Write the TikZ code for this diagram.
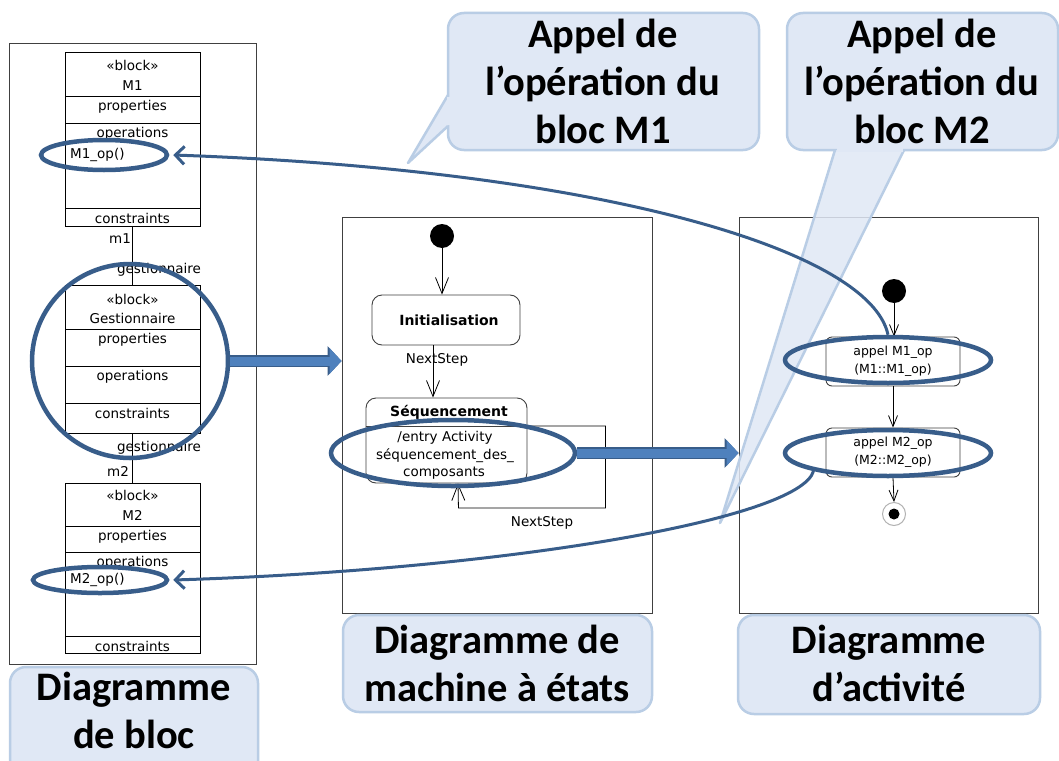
\documentclass[tikz,border=0pt]{standalone}
\usepackage{fontspec}
\setmainfont{Carlito}
\newfontfamily\umlfont{DejaVu Sans}
\usetikzlibrary{arrows.meta,shapes.geometric,calc}
\definecolor{ebl}{HTML}{385D8A}
\definecolor{afill}{HTML}{4F81BD}
\definecolor{cfill}{HTML}{E0E8F5}
\definecolor{cbord}{HTML}{B9CDE5}
\definecolor{fr}{HTML}{404040}
\begin{document}
\begin{tikzpicture}[x=1pt,y=-1pt,
  diagframe/.style={draw=fr, line width=0.9pt, inner sep=0pt},
  blkbox/.style={draw=black, line width=0.8pt, minimum width=135pt, inner sep=0pt},
  umltxt/.style={font=\umlfont\fontsize{13.5}{16}\selectfont, inner sep=0pt},
  umlbold/.style={font=\umlfont\bfseries\fontsize{14}{16}\selectfont, inner sep=0pt},
  acttxt/.style={font=\umlfont\fontsize{12.5}{18}\selectfont, align=center, inner sep=0pt},
  stbox/.style={draw=fr, line width=0.9pt, rounded corners=10pt, inner sep=0pt},
  actbox/.style={draw=fr, line width=0.9pt, rounded corners=6pt, inner sep=0pt, minimum width=134pt, minimum height=49pt},
  uarrow/.style={draw=black, line width=0.8pt, -{Straight Barb[length=16pt,width=13pt]}},
  uarrowsm/.style={draw=black, line width=0.8pt, -{Straight Barb[length=11pt,width=9pt]}},
  blueell/.style={ellipse, draw=ebl, line width=4.5pt, inner sep=0pt},
  bluecurve/.style={draw=ebl, line width=3pt, -{Straight Barb[length=9pt,width=18pt]}},
  barrow/.style={draw=afill, line width=9pt, -{Triangle[length=12pt,width=25pt]},
     preaction={draw=ebl, line width=11.5pt, -{Triangle[length=14pt,width=29pt]}}},
  callbox/.style={draw=cbord, fill=cfill, line width=2.5pt, rounded corners=16pt, inner sep=0pt},
  calltxt/.style={font=\bfseries\fontsize{40.5}{48}\selectfont, align=center, inner sep=0pt},
  dot/.style={circle, fill=black, inner sep=0pt}
]
\useasboundingbox (0,0) rectangle (1059,760);
\fill[white] (0,0) rectangle (1059,760);

% ---------- frames ----------
\node[diagframe, minimum width=247pt, minimum height=621pt] (blframe) at (132.5,353.5) {};
\node[diagframe, minimum width=310pt, minimum height=396pt] (smframe) at (497,415) {};
\node[diagframe, minimum width=299pt, minimum height=396pt] (acframe) at (888.5,415) {};

% ---------- block diagram ----------
\node[blkbox, minimum height=174pt] (m1blk) at (132.5,139) {};
\draw[line width=0.8pt] (65,96) -- (200,96) (65,123) -- (200,123) (65,208) -- (200,208);
\node[umltxt] (m1st) at (132.5,65) {«block»};
\node[umltxt] (m1nm) at (132.5,86) {M1};
\node[umltxt] (m1pr) at (132.5,107) {properties};
\node[umltxt] (m1ops) at (132.5,134) {operations};
\node[umltxt, anchor=west] (m1op) at (70,155) {M1\_op()};
\node[umltxt] (m1co) at (132.5,218) {constraints};

\node[blkbox, minimum height=148pt] (gblk) at (132.5,359) {};
\draw[line width=0.8pt] (65,329) -- (200,329) (65,366) -- (200,366) (65,403) -- (200,403);
\node[umltxt] (gst) at (132.5,299) {«block»};
\node[umltxt] (gnm) at (132.5,318) {Gestionnaire};
\node[umltxt] (gpr) at (132.5,340) {properties};
\node[umltxt] (gops) at (132.5,377) {operations};
\node[umltxt] (gco) at (132.5,413) {constraints};

\node[blkbox, minimum height=170pt] (m2blk) at (132.5,568) {};
\draw[line width=0.8pt] (65,526) -- (200,526) (65,552) -- (200,552) (65,636) -- (200,636);
\node[umltxt] (m2st) at (132.5,495) {«block»};
\node[umltxt] (m2nm) at (132.5,515) {M2};
\node[umltxt] (m2pr) at (132.5,537) {properties};
\node[umltxt] (m2ops) at (132.5,563) {operations};
\node[umltxt, anchor=west] (m2op) at (70,580) {M2\_op()};
\node[umltxt] (m2co) at (132.5,646) {constraints};

\draw[line width=0.8pt] (m1blk.south) -- (gblk.north);
\draw[line width=0.8pt] (gblk.south) -- (m2blk.north);
\node[umltxt] (lm1) at (120,239) {m1};
\node[umltxt] (lg1) at (159,270) {gestionnaire};
\node[umltxt] (lg2) at (159,448) {gestionnaire};
\node[umltxt] (lm2) at (118,471) {m2};

% ---------- state machine ----------
\node[dot, minimum size=24pt] (sinit) at (442,236) {};
\node[stbox, minimum width=148pt, minimum height=50pt] (sini) at (446,320) {};
\node[umlbold] (sinit_t) at (449,320) {Initialisation};
\node[stbox, minimum width=161pt, minimum height=85pt] (sseq) at (446.5,440.5) {};
\draw[line width=0.9pt, draw=fr] (366,426) -- (527,426);
\node[umlbold] (sseqt) at (449,412) {Séquencement};
\node[umltxt] (sseq1) at (445,438) {/entry Activity};
\node[umltxt] (sseq2) at (445,456) {séquencement\_des\_};
\node[umltxt] (sseq3) at (444,473) {composants};
\draw[uarrow] (sinit.south) -- (sinit.south |- sini.north);
\draw[uarrow] ([xshift=-13pt]sini.south) -- ([xshift=-13pt]sini.south |- sseq.north);
\node[umltxt] (ns1) at (437,360) {NextStep};
\draw[uarrow] ([yshift=14.5pt]sseq.east) -- ++(78,0) -- ++(0,82) -- ++(-147,0) -- ([xshift=11.5pt]sseq.south);
\node[umltxt] (ns2) at (542,523) {NextStep};

% ---------- activity ----------
\node[dot, minimum size=24pt] (ainit) at (894,291) {};
\node[actbox, acttxt] (act1) at (893,361.5) {appel M1\_op\\(M1::M1\_op)};
\node[actbox, acttxt] (act2) at (893,452.5) {appel M2\_op\\(M2::M2\_op)};
\node[circle, draw=gray!60, line width=1pt, minimum size=23pt, inner sep=0pt] (afin) at (894,514) {};
\node[dot, minimum size=11pt] (afind) at (afin) {};
\draw[uarrowsm] (ainit.south) -- (ainit.south |- act1.north);
\draw[uarrowsm] (act1.south) -- (act2.north);
\draw[uarrowsm] (act2.south) -- (afin.north);

% ---------- callouts and labels ----------
\node[callbox, minimum width=311pt, minimum height=137pt] (c1) at (603.5,81.5) {};
\filldraw[draw=cbord, fill=cfill, line width=2.5pt, line join=round] (448,95) -- (408,163) -- (448,126);
\fill[cfill] (446.5,96.5) rectangle (450.5,124.5);
\node[calltxt] (c1t) at (603,81) {Appel de\\l’opération du\\bloc M1};

\node[callbox, minimum width=271pt, minimum height=137pt] (c2) at (922.5,81.5) {};
\filldraw[draw=cbord, fill=cfill, line width=2.5pt, fill opacity=0.85, line join=round] (835,150) -- (720,523) -- (904,150);
\fill[cfill] (836.5,147.5) rectangle (902.5,151.5);
\node[calltxt] (c2t) at (922,81) {Appel de\\l’opération du\\bloc M2};

\node[callbox, minimum width=248pt, minimum height=110pt] (bllbl) at (134,722) {};
\node[calltxt] (bllblt) at (134,710) {Diagramme\\de bloc};
\node[callbox, minimum width=309pt, minimum height=97pt] (smlbl) at (497.5,663.5) {};
\node[calltxt] (smlblt) at (497,663) {Diagramme de\\machine à états};
\node[callbox, minimum width=302pt, minimum height=99pt] (aclbl) at (889,664.5) {};
\node[calltxt] (aclblt) at (889,663) {Diagramme\\d’activité};

% ---------- blue highlights ----------
\node[blueell, minimum width=126pt, minimum height=30pt] (e1) at (104,155) {};
\node[blueell, minimum width=196pt, minimum height=194pt] (gcirc) at (130,361) {};
\node[blueell, minimum width=134pt, minimum height=26pt] (e2) at (100,580) {};
\node[blueell, minimum width=244pt, minimum height=66pt] (eseq) at (453,453) {};
\node[blueell, minimum width=206pt, minimum height=46pt] (ea1) at (888,360) {};
\node[blueell, minimum width=206pt, minimum height=46pt] (ea2) at (888,453) {};

\draw[bluecurve] (ea1.north) .. controls (870,250) and (600,170) .. ([xshift=4pt]e1.east);
\draw[bluecurve] (ea2.south west) .. controls (800,520) and (500,570) .. ([xshift=4pt]e2.east);

\draw[barrow] (gcirc.east) -- (gcirc.east -| smframe.west);
\draw[barrow] (eseq.east) -- (eseq.east -| acframe.west);
\end{tikzpicture}
\end{document}
